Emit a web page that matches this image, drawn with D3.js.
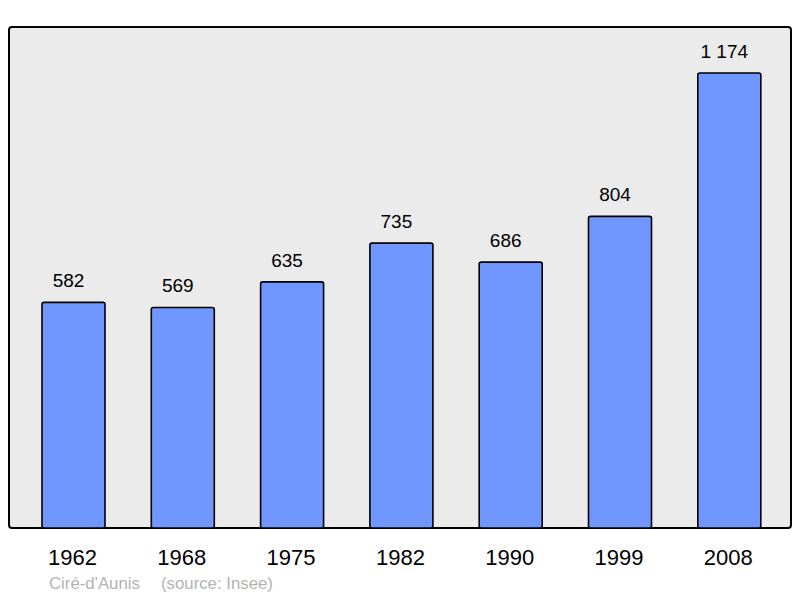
<!DOCTYPE html>
<html>
<head>
<meta charset="utf-8">
<script src="https://cdn.jsdelivr.net/npm/d3@7"></script>
<style>
  body { margin: 0; background: #fff; }
  text { font-family: "Liberation Sans", Arial, sans-serif; }
</style>
</head>
<body>
<div id="chart"></div>
<script>
// Population by census year
const years = ['1962', '1968', '1975', '1982', '1990', '1999', '2008'];
const population = [582, 569, 635, 735, 686, 804, 1174];
const valueLabels = ['582', '569', '635', '735', '686', '804', '1 174'];
const commune = "Ciré-d'Aunis";
const source = '(source: Insee)';

const width = 800, height = 598;
const panel = { left: 9, top: 27, right: 791, bottom: 528 };

const svg = d3.select('#chart').append('svg')
    .attr('width', width)
    .attr('height', height);

// Grey plot panel
svg.append('rect')
    .attr('x', panel.left)
    .attr('y', panel.top)
    .attr('width', panel.right - panel.left)
    .attr('height', panel.bottom - panel.top)
    .attr('rx', 3)
    .attr('fill', '#ebebeb')
    .attr('stroke', '#000')
    .attr('stroke-width', 2);

// bars ~63px wide every ~109.3px, first one starts at x=42
const x = d3.scaleBand()
    .domain(years)
    .range([42, 42 + 6 * 109.3 + 63])
    .paddingInner(1 - 63 / 109.3)
    .paddingOuter(0);

const y = d3.scaleLinear()
    .domain([0, 1292.6])
    .range([panel.bottom, panel.top]);

svg.append('g').selectAll('rect')
    .data(population)
    .enter().append('rect')
    .attr('x', (d, i) => x(years[i]))
    .attr('y', d => y(d))
    .attr('width', x.bandwidth())
    .attr('height', d => y(0) - y(d))
    .attr('rx', 2)
    .attr('fill', '#7096ff')
    .attr('stroke', '#000')
    .attr('stroke-width', 1.6);

// Value labels above the bars
svg.append('g').selectAll('text')
    .data(population)
    .enter().append('text')
    .attr('x', (d, i) => x(years[i]) + x.bandwidth() / 2 - 5)
    .attr('y', d => y(d) - 15)
    .attr('text-anchor', 'middle')
    .style('font-size', '19px')
    .attr('fill', '#000')
    .text((d, i) => valueLabels[i]);

// Year labels under the panel
svg.append('g').selectAll('text')
    .data(years)
    .enter().append('text')
    .attr('x', d => x(d) + x.bandwidth() / 2 - 1)
    .attr('y', 565)
    .attr('text-anchor', 'middle')
    .style('font-size', '22px')
    .attr('fill', '#000')
    .text(d => d);

// Footer
svg.append('text')
    .attr('x', 49)
    .attr('y', 589)
    .style('font-size', '16.8px')
    .attr('fill', '#b3b3b3')
    .text(commune);

svg.append('text')
    .attr('x', 161)
    .attr('y', 589)
    .style('font-size', '16.8px')
    .attr('fill', '#b3b3b3')
    .text(source);
</script>
</body>
</html>
